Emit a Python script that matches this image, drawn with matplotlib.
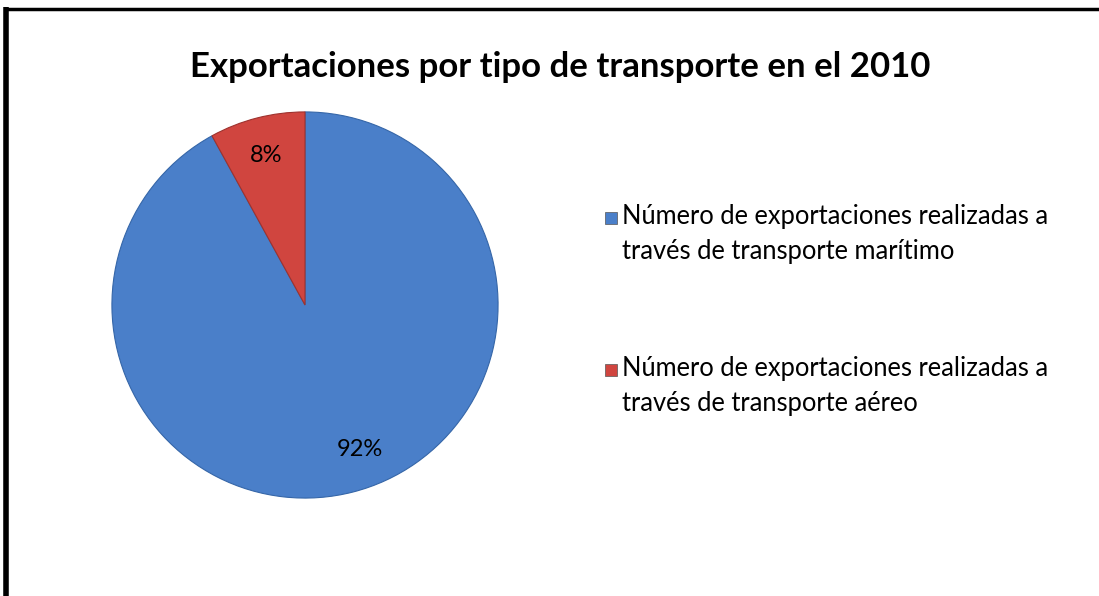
import matplotlib
matplotlib.use("Agg")
import matplotlib.pyplot as plt
import numpy as np
from matplotlib.lines import Line2D
from matplotlib.patches import Rectangle

plt.rcParams['font.family'] = ['Lato', 'DejaVu Sans']

title = "Exportaciones por tipo de transporte en el 2010"
labels = ["Número de exportaciones realizadas a\ntravés de transporte marítimo",
          "Número de exportaciones realizadas a\ntravés de transporte aéreo"]
values = [92, 8]
colors = ["#4A7FC9", "#D0453F"]
edges = ["#3566A8", "#9E322E"]

W, H = 1099, 596
fig = plt.figure(figsize=(W / 100, H / 100), dpi=100)
fig.patch.set_facecolor("white")

# pie axes, square in pixels
ax = fig.add_axes([110 / W, 96 / H, 390 / W, 390 / H])
wedges, texts, autotexts = ax.pie(
    values, colors=colors, startangle=90, counterclock=False,
    autopct="%1.0f%%", pctdistance=0.8,
    wedgeprops=dict(linewidth=0.8),
    textprops=dict(fontsize=17, color="black"))
for w, e in zip(wedges, edges):
    w.set_edgecolor(e)
# excel puts the big label a bit further round
a = np.deg2rad(-69)
autotexts[0].set_position((0.8 * np.cos(a), 0.8 * np.sin(a)))
ax.set_xlim(-1.01, 1.01)
ax.set_ylim(-1.01, 1.01)
ax.set_aspect("equal")
ax.axis("off")

fig.text(560 / W, 1 - 67 / H, title, ha="center", va="center", fontsize=25, fontweight="bold")

# legend drawn by hand: marker sits on the first line of each entry
legend_y = [218, 370]
for lab, c, y in zip(labels, colors, legend_y):
    fig.add_artist(Rectangle((605 / W, 1 - (y + 6) / H), 12 / W, 12 / H, transform=fig.transFigure,
                             facecolor=c, edgecolor="#555555", linewidth=0.5))
    fig.text(622 / W, 1 - (y - 14) / H, lab, ha="left", va="top", fontsize=18.4,
             linespacing=1.5)

# border: top and left lines only
fig.add_artist(Line2D([5.5 / W, 5.5 / W], [0, 1 - 7 / H], color="black", linewidth=4,
                      transform=fig.transFigure, solid_capstyle="butt"))
fig.add_artist(Line2D([3.5 / W, 1], [1 - 8.5 / H, 1 - 8.5 / H], color="black", linewidth=2.5,
                      transform=fig.transFigure, solid_capstyle="butt"))

fig.savefig("out.png", dpi=100)
